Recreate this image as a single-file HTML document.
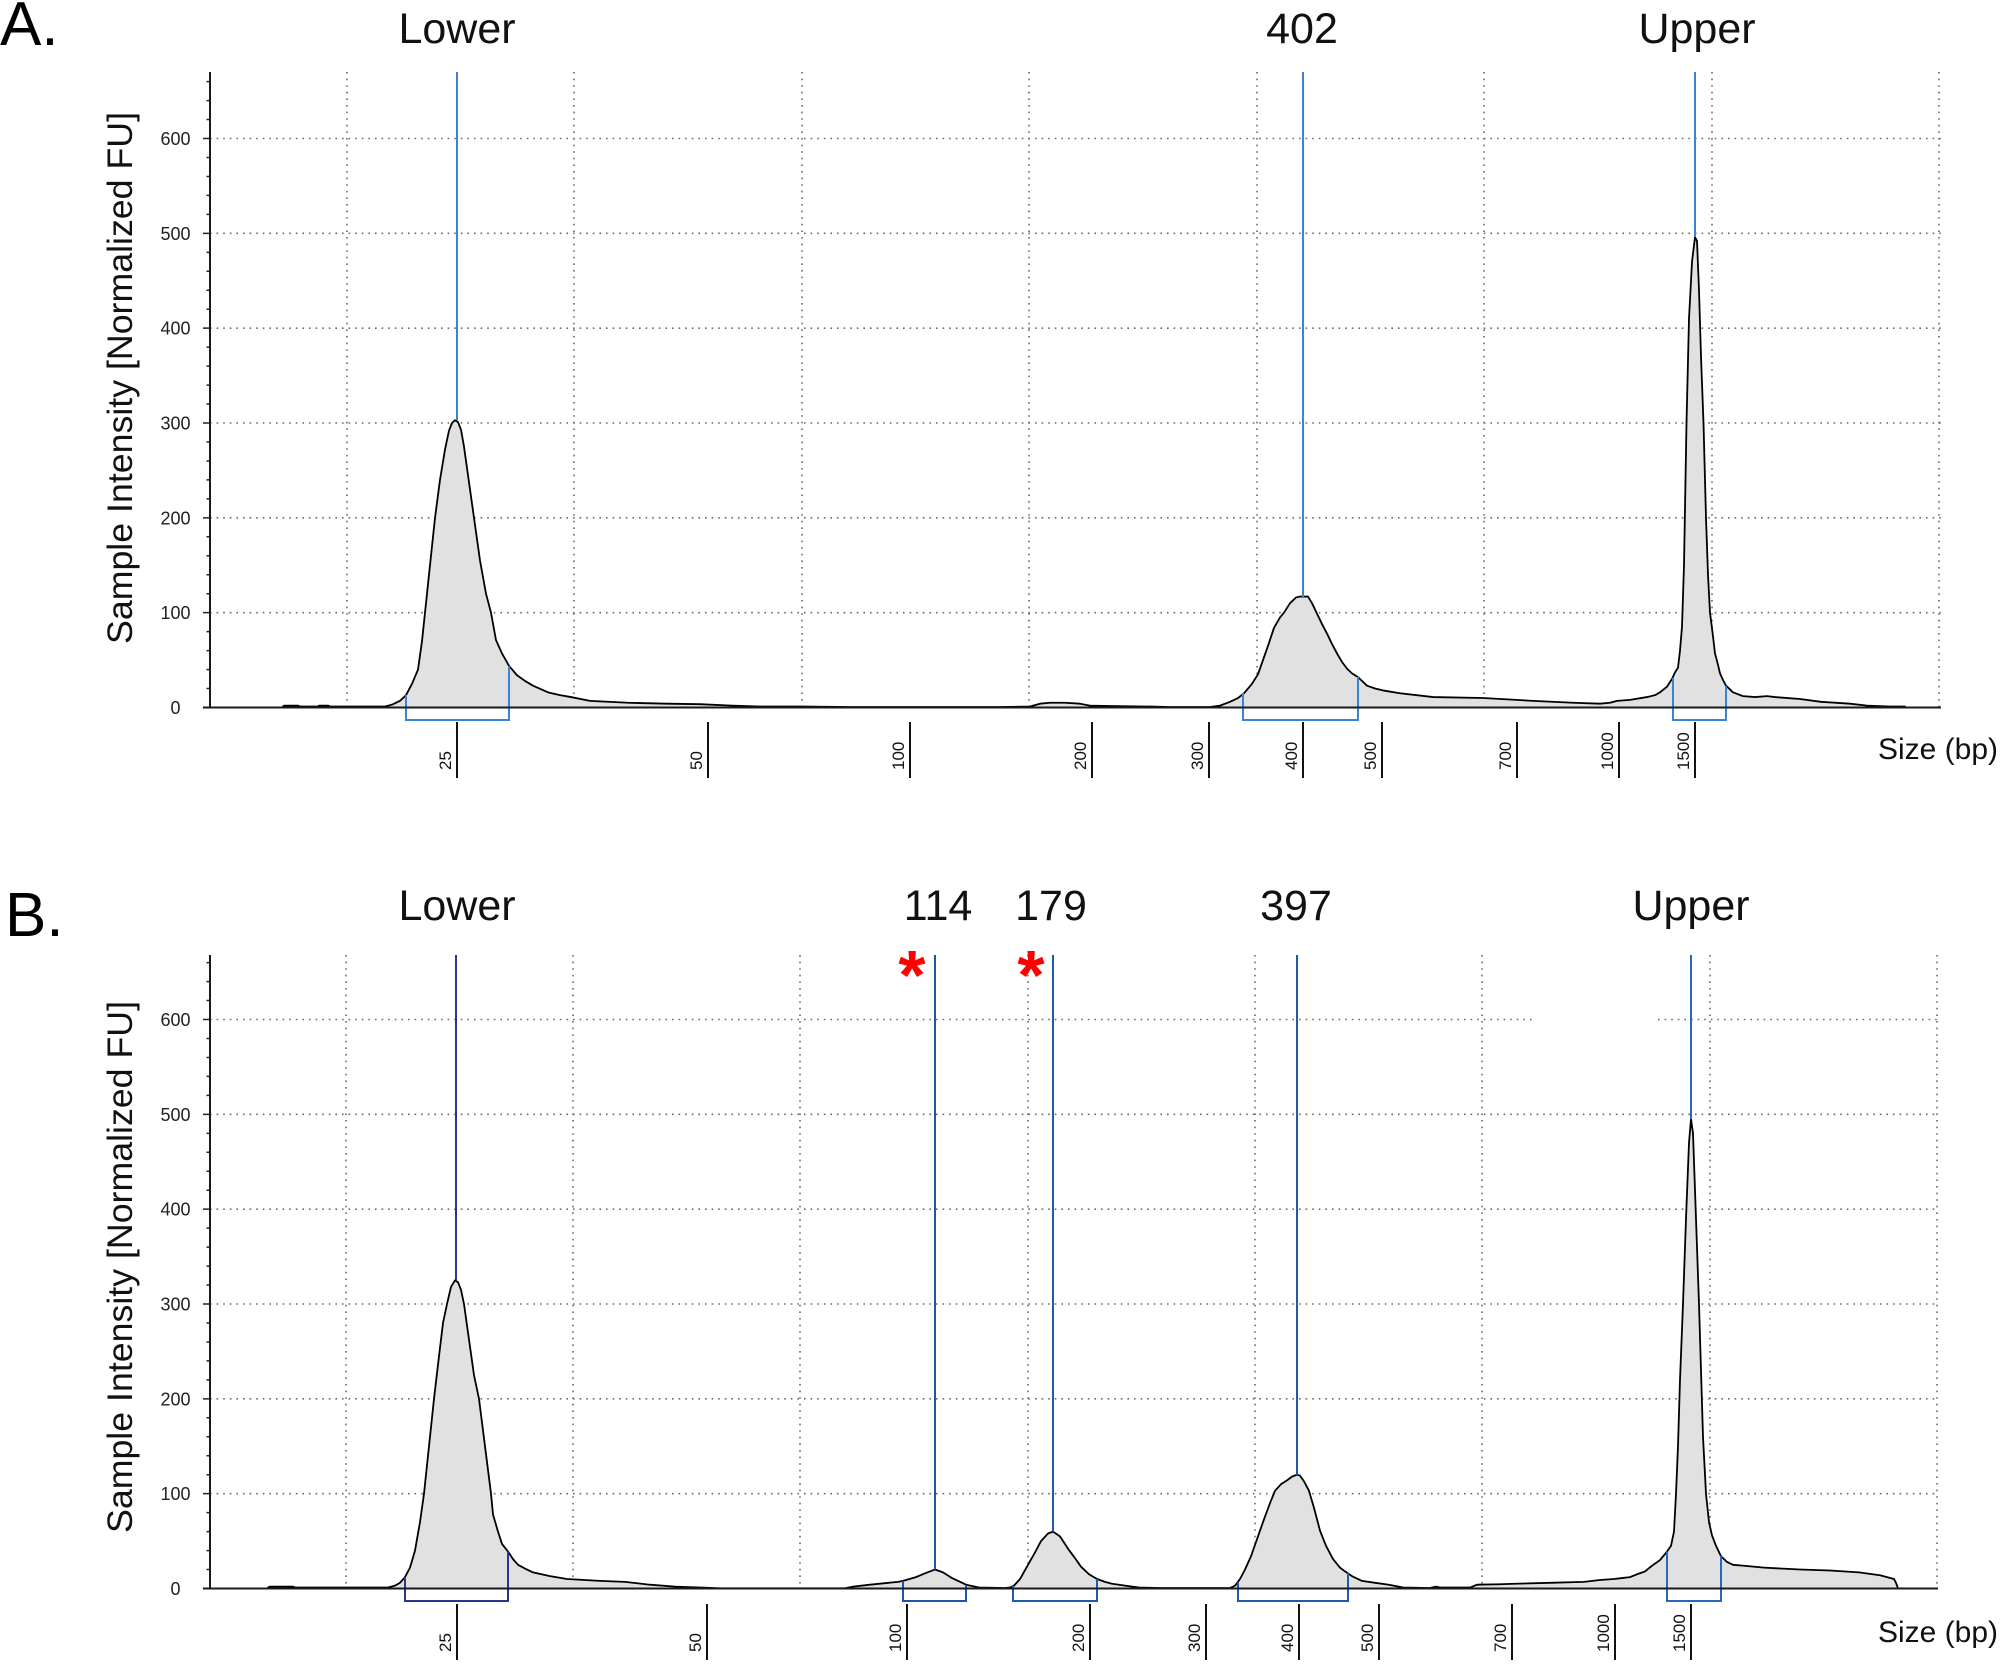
<!DOCTYPE html>
<html>
<head>
<meta charset="utf-8">
<style>
html,body{margin:0;padding:0;background:#fff;}
svg{display:block;}
text{font-family:"Liberation Sans",Arial,sans-serif;}
</style>
</head>
<body>
<svg width="2000" height="1676" viewBox="0 0 2000 1676" xmlns="http://www.w3.org/2000/svg">
<rect width="2000" height="1676" fill="#fff"/>

<!-- ================= PANEL A ================= -->
<text x="0" y="45" font-size="62" fill="#000">A.</text>
<text x="457" y="43" font-size="43" fill="#111" text-anchor="middle">Lower</text>
<text x="1302" y="43" font-size="43" fill="#111" text-anchor="middle">402</text>
<text x="1697" y="43" font-size="43" fill="#111" text-anchor="middle">Upper</text>

<g stroke="#6a6a6a" stroke-width="1.6" stroke-dasharray="1.6 5" fill="none">
<path d="M347,72V707 M574,72V707 M802,72V707 M1029,72V707 M1257,72V707 M1484,72V707 M1712,72V707 M1939,72V707"/>
<path d="M210,612.7H1941 M210,517.8H1941 M210,423H1941 M210,328.2H1941 M210,233.3H1941 M210,138.5H1941"/>
</g>

<g transform="translate(0 707.5) scale(1 -0.9483)">
<path fill="#e1e1e1" stroke="none" d="M283,0 L283,1 L284,2 L298,2 L300,1 L318,1 L319,2 L328,2 L330,1 L385,1 L392,3 L400,7 L406,13 L412,25 L418,40 L422,70 L425,100 L430,150 L435,200 L440,240 L445,272 L449,292 L452,300 L455,303 L458,301 L461,293 L464,275 L468,245 L474,200 L480,155 L486,120 L491,100 L496,71 L502,57 L509,44 L517,34 L525,28 L533,23 L548,16 L560,13 L571,11 L590,7 L628,5 L667,4 L700,3.5 L732,2 L760,1 L800,1 L850,0.5 L1000,0.5 L1030,1 L1040,4 L1050,5 L1065,5 L1080,4 L1090,2 L1110,1.5 L1150,1 L1170,0.5 L1210,0.5 L1220,2 L1230,6 L1238,10 L1244,15 L1252,25 L1258,35 L1263,50 L1268,65 L1274,84 L1280,95 L1284,100 L1290,110 L1296,116 L1300,117 L1308,117 L1312,110 L1317,99 L1322,88 L1327,78 L1332,67 L1337,57 L1342,48 L1347,41 L1352,36 L1358,32 L1363,27 L1367,23 L1375,20 L1383,18 L1400,15 L1433,11 L1483,10 L1533,7 L1573,5 L1600,4 L1610,5 L1617,7 L1630,8 L1647,11 L1655,13 L1660,16 L1667,22 L1672,30 L1675,37 L1678,42 L1680,60 L1682,85 L1684,150 L1686.5,300 L1689,410 L1692,470 L1695,496 L1697,492 L1699,440 L1701,370 L1703.5,300 L1706,200 L1708,140 L1710,100 L1713,75 L1715,57 L1718,45 L1720,36 L1723,29 L1726,23 L1733,16 L1743,12 L1755,11 L1767,12 L1775,11 L1800,9 L1821,6 L1850,4 L1867,2 L1890,1 L1905,1 L1905,0 Z"/>
<path fill="none" stroke="#000" stroke-width="1.8" vector-effect="non-scaling-stroke" stroke-linejoin="round" d="M283,0 L283,1 L284,2 L298,2 L300,1 L318,1 L319,2 L328,2 L330,1 L385,1 L392,3 L400,7 L406,13 L412,25 L418,40 L422,70 L425,100 L430,150 L435,200 L440,240 L445,272 L449,292 L452,300 L455,303 L458,301 L461,293 L464,275 L468,245 L474,200 L480,155 L486,120 L491,100 L496,71 L502,57 L509,44 L517,34 L525,28 L533,23 L548,16 L560,13 L571,11 L590,7 L628,5 L667,4 L700,3.5 L732,2 L760,1 L800,1 L850,0.5 L1000,0.5 L1030,1 L1040,4 L1050,5 L1065,5 L1080,4 L1090,2 L1110,1.5 L1150,1 L1170,0.5 L1210,0.5 L1220,2 L1230,6 L1238,10 L1244,15 L1252,25 L1258,35 L1263,50 L1268,65 L1274,84 L1280,95 L1284,100 L1290,110 L1296,116 L1300,117 L1308,117 L1312,110 L1317,99 L1322,88 L1327,78 L1332,67 L1337,57 L1342,48 L1347,41 L1352,36 L1358,32 L1363,27 L1367,23 L1375,20 L1383,18 L1400,15 L1433,11 L1483,10 L1533,7 L1573,5 L1600,4 L1610,5 L1617,7 L1630,8 L1647,11 L1655,13 L1660,16 L1667,22 L1672,30 L1675,37 L1678,42 L1680,60 L1682,85 L1684,150 L1686.5,300 L1689,410 L1692,470 L1695,496 L1697,492 L1699,440 L1701,370 L1703.5,300 L1706,200 L1708,140 L1710,100 L1713,75 L1715,57 L1718,45 L1720,36 L1723,29 L1726,23 L1733,16 L1743,12 L1755,11 L1767,12 L1775,11 L1800,9 L1821,6 L1850,4 L1867,2 L1890,1 L1905,1 L1905,0"/>
<path fill="none" stroke="#222" stroke-width="1.5" vector-effect="non-scaling-stroke" d="M203,100H210 M203,200H210 M203,300H210 M203,400H210 M203,500H210 M203,600H210 M206.5,20H210 M206.5,40H210 M206.5,60H210 M206.5,80H210 M206.5,120H210 M206.5,140H210 M206.5,160H210 M206.5,180H210 M206.5,220H210 M206.5,240H210 M206.5,260H210 M206.5,280H210 M206.5,320H210 M206.5,340H210 M206.5,360H210 M206.5,380H210 M206.5,420H210 M206.5,440H210 M206.5,460H210 M206.5,480H210 M206.5,520H210 M206.5,540H210 M206.5,560H210 M206.5,580H210 M206.5,620H210 M206.5,640H210 M206.5,660H210"/>
</g>

<g stroke="#3a84d6" stroke-width="2" fill="none">
<path d="M457,72V420"/>
<path d="M1303,72V597"/>
<path d="M1695,72V237"/>
<path d="M406,695V720H509V666"/>
<path d="M1243,693V720H1358V677"/>
<path d="M1673,678V720H1726V686"/>
</g>

<path d="M210,72V708.5 M203,707.5H1941" stroke="#1a1a1a" stroke-width="2" fill="none"/>

<g font-size="18" fill="#222" text-anchor="middle">
<text x="175.5" y="714">0</text>
<text x="175.5" y="619.2">100</text>
<text x="175.5" y="524.3">200</text>
<text x="175.5" y="429.5">300</text>
<text x="175.5" y="334.7">400</text>
<text x="175.5" y="239.8">500</text>
<text x="175.5" y="145">600</text>
</g>
<text transform="translate(132 378) rotate(-90)" font-size="35" fill="#111" text-anchor="middle" textLength="532" lengthAdjust="spacingAndGlyphs">Sample Intensity [Normalized FU]</text>

<path stroke="#111" stroke-width="2" fill="none" d="M457,722V778 M708,722V778 M910,722V778 M1092,722V778 M1209,722V778 M1303,722V778 M1382,722V778 M1517,722V778 M1619,722V778 M1695,722V778"/>
<g font-size="17" fill="#111">
<text transform="translate(451 770) rotate(-90)">25</text>
<text transform="translate(702 770) rotate(-90)">50</text>
<text transform="translate(904 770) rotate(-90)">100</text>
<text transform="translate(1086 770) rotate(-90)">200</text>
<text transform="translate(1203 770) rotate(-90)">300</text>
<text transform="translate(1297 770) rotate(-90)">400</text>
<text transform="translate(1376 770) rotate(-90)">500</text>
<text transform="translate(1511 770) rotate(-90)">700</text>
<text transform="translate(1613 770) rotate(-90)">1000</text>
<text transform="translate(1689 770) rotate(-90)">1500</text>
</g>
<text x="1878" y="759" font-size="30" fill="#111" textLength="120" lengthAdjust="spacingAndGlyphs">Size (bp)</text>

<!-- ================= PANEL B ================= -->
<text x="5" y="936" font-size="62" fill="#000">B.</text>
<text x="457" y="920" font-size="43" fill="#111" text-anchor="middle">Lower</text>
<text x="938" y="920" font-size="43" fill="#111" text-anchor="middle">114</text>
<text x="1051" y="920" font-size="43" fill="#111" text-anchor="middle">179</text>
<text x="1296" y="920" font-size="43" fill="#111" text-anchor="middle">397</text>
<text x="1691" y="920" font-size="43" fill="#111" text-anchor="middle">Upper</text>

<g stroke="#6a6a6a" stroke-width="1.6" stroke-dasharray="1.6 5" fill="none">
<path d="M346,955V1588 M573,955V1588 M800,955V1588 M1028,955V1588 M1255,955V1588 M1482,955V1588 M1710,955V1588 M1937,955V1588"/>
<path d="M210,1493.7H1938 M210,1398.8H1938 M210,1304H1938 M210,1209.2H1938 M210,1114.3H1938 M210,1019.5H1534 M1658,1019.5H1938"/>
</g>

<g transform="translate(0 1588.5) scale(1 -0.9483)">
<path fill="#e1e1e1" stroke="none" d="M268,0 L268,1 L270,2 L293,2 L295,1 L388,1 L395,3 L400,6 L405,12 L410,22 L415,40 L420,70 L424,100 L429,150 L434,200 L439,245 L443,280 L447,300 L451,318 L455,325 L458,323 L461,315 L464,300 L468,270 L474,225 L479,200 L485,150 L491,100 L493,78 L498,60 L502,47 L508,39 L513,31 L518,25 L525,21 L533,17 L550,13 L567,10 L600,8 L625,7 L650,4 L675,2 L700,1 L720,0.3 L845,0.3 L853,2 L870,4 L898,7 L903,8 L916,12 L925,16 L935,20 L943,17 L952,11 L960,7 L966,4 L979,1 L1005,0.5 L1010,1 L1014,3 L1020,10 L1028,25 L1035,38 L1041,50 L1048,58 L1053,60 L1060,55 L1068,42 L1075,32 L1081,23 L1089,15 L1097,10 L1105,7 L1112,5 L1125,3 L1139,1 L1160,0.5 L1230,0.5 L1235,3 L1240,10 L1245,20 L1251,34 L1258,55 L1264,73 L1270,90 L1275,103 L1281,110 L1287,114 L1292,118 L1297,120 L1300,119 L1304,113 L1309,103 L1314,85 L1320,61 L1326,45 L1333,31 L1340,22 L1345,18 L1352,13 L1362,8 L1375,6 L1389,4 L1403,1 L1430,0.5 L1436,2 L1440,1 L1470,1 L1477,4 L1500,4.5 L1515,5 L1550,6 L1584,7 L1600,9 L1614,10 L1622,11 L1630,12 L1637,15 L1645,18 L1652,24 L1660,30 L1667,39 L1671,45 L1674,60 L1676,100 L1678,150 L1680,220 L1683,300 L1686,390 L1689,470 L1691,495 L1693,480 L1695,420 L1697,360 L1699,300 L1701,230 L1703,160 L1706,100 L1709,70 L1712,56 L1716,45 L1721,34 L1727,28 L1733,25 L1744,24 L1764,22 L1800,20 L1830,19 L1859,17 L1880,14 L1894,10 L1896,6 L1898,0 Z"/>
<path fill="none" stroke="#000" stroke-width="1.8" vector-effect="non-scaling-stroke" stroke-linejoin="round" d="M268,0 L268,1 L270,2 L293,2 L295,1 L388,1 L395,3 L400,6 L405,12 L410,22 L415,40 L420,70 L424,100 L429,150 L434,200 L439,245 L443,280 L447,300 L451,318 L455,325 L458,323 L461,315 L464,300 L468,270 L474,225 L479,200 L485,150 L491,100 L493,78 L498,60 L502,47 L508,39 L513,31 L518,25 L525,21 L533,17 L550,13 L567,10 L600,8 L625,7 L650,4 L675,2 L700,1 L720,0.3 L845,0.3 L853,2 L870,4 L898,7 L903,8 L916,12 L925,16 L935,20 L943,17 L952,11 L960,7 L966,4 L979,1 L1005,0.5 L1010,1 L1014,3 L1020,10 L1028,25 L1035,38 L1041,50 L1048,58 L1053,60 L1060,55 L1068,42 L1075,32 L1081,23 L1089,15 L1097,10 L1105,7 L1112,5 L1125,3 L1139,1 L1160,0.5 L1230,0.5 L1235,3 L1240,10 L1245,20 L1251,34 L1258,55 L1264,73 L1270,90 L1275,103 L1281,110 L1287,114 L1292,118 L1297,120 L1300,119 L1304,113 L1309,103 L1314,85 L1320,61 L1326,45 L1333,31 L1340,22 L1345,18 L1352,13 L1362,8 L1375,6 L1389,4 L1403,1 L1430,0.5 L1436,2 L1440,1 L1470,1 L1477,4 L1500,4.5 L1515,5 L1550,6 L1584,7 L1600,9 L1614,10 L1622,11 L1630,12 L1637,15 L1645,18 L1652,24 L1660,30 L1667,39 L1671,45 L1674,60 L1676,100 L1678,150 L1680,220 L1683,300 L1686,390 L1689,470 L1691,495 L1693,480 L1695,420 L1697,360 L1699,300 L1701,230 L1703,160 L1706,100 L1709,70 L1712,56 L1716,45 L1721,34 L1727,28 L1733,25 L1744,24 L1764,22 L1800,20 L1830,19 L1859,17 L1880,14 L1894,10 L1896,6 L1898,0"/>
<path fill="none" stroke="#222" stroke-width="1.5" vector-effect="non-scaling-stroke" d="M203,100H210 M203,200H210 M203,300H210 M203,400H210 M203,500H210 M203,600H210 M206.5,20H210 M206.5,40H210 M206.5,60H210 M206.5,80H210 M206.5,120H210 M206.5,140H210 M206.5,160H210 M206.5,180H210 M206.5,220H210 M206.5,240H210 M206.5,260H210 M206.5,280H210 M206.5,320H210 M206.5,340H210 M206.5,360H210 M206.5,380H210 M206.5,420H210 M206.5,440H210 M206.5,460H210 M206.5,480H210 M206.5,520H210 M206.5,540H210 M206.5,560H210 M206.5,580H210 M206.5,620H210 M206.5,640H210 M206.5,660H210"/>
</g>

<g stroke-width="2" fill="none">
<path stroke="#2a3590" d="M456,955V1280 M405,1577V1601H508V1551.5"/>
<path stroke="#1f55a8" d="M935,955V1569.5 M903,1581V1601H966V1585"/>
<path stroke="#1f5aac" d="M1053,955V1531.6 M1013,1586V1601H1097V1579"/>
<path stroke="#1f5aac" d="M1297,955V1474.7 M1238,1582V1601H1348V1573"/>
<path stroke="#2668bd" d="M1691,955V1119 M1667,1551.5V1601H1721V1556"/>
</g>

<text x="912" y="999" font-size="70" font-weight="bold" fill="#ff0000" text-anchor="middle">*</text>
<text x="1031" y="999" font-size="70" font-weight="bold" fill="#ff0000" text-anchor="middle">*</text>

<path d="M210,955V1589.5 M203,1588.5H1938" stroke="#1a1a1a" stroke-width="2" fill="none"/>

<g font-size="18" fill="#222" text-anchor="middle">
<text x="175.5" y="1595">0</text>
<text x="175.5" y="1500.2">100</text>
<text x="175.5" y="1405.3">200</text>
<text x="175.5" y="1310.5">300</text>
<text x="175.5" y="1215.7">400</text>
<text x="175.5" y="1120.8">500</text>
<text x="175.5" y="1026">600</text>
</g>
<text transform="translate(132 1267) rotate(-90)" font-size="35" fill="#111" text-anchor="middle" textLength="532" lengthAdjust="spacingAndGlyphs">Sample Intensity [Normalized FU]</text>

<path stroke="#111" stroke-width="2" fill="none" d="M457,1604V1660 M707,1604V1660 M907,1604V1660 M1090,1604V1660 M1206,1604V1660 M1299,1604V1660 M1379,1604V1660 M1512,1604V1660 M1615,1604V1660 M1691,1604V1660"/>
<g font-size="17" fill="#111">
<text transform="translate(451 1652) rotate(-90)">25</text>
<text transform="translate(701 1652) rotate(-90)">50</text>
<text transform="translate(901 1652) rotate(-90)">100</text>
<text transform="translate(1084 1652) rotate(-90)">200</text>
<text transform="translate(1200 1652) rotate(-90)">300</text>
<text transform="translate(1293 1652) rotate(-90)">400</text>
<text transform="translate(1373 1652) rotate(-90)">500</text>
<text transform="translate(1506 1652) rotate(-90)">700</text>
<text transform="translate(1609 1652) rotate(-90)">1000</text>
<text transform="translate(1685 1652) rotate(-90)">1500</text>
</g>
<text x="1878" y="1642" font-size="30" fill="#111" textLength="120" lengthAdjust="spacingAndGlyphs">Size (bp)</text>

</svg>
</body>
</html>
